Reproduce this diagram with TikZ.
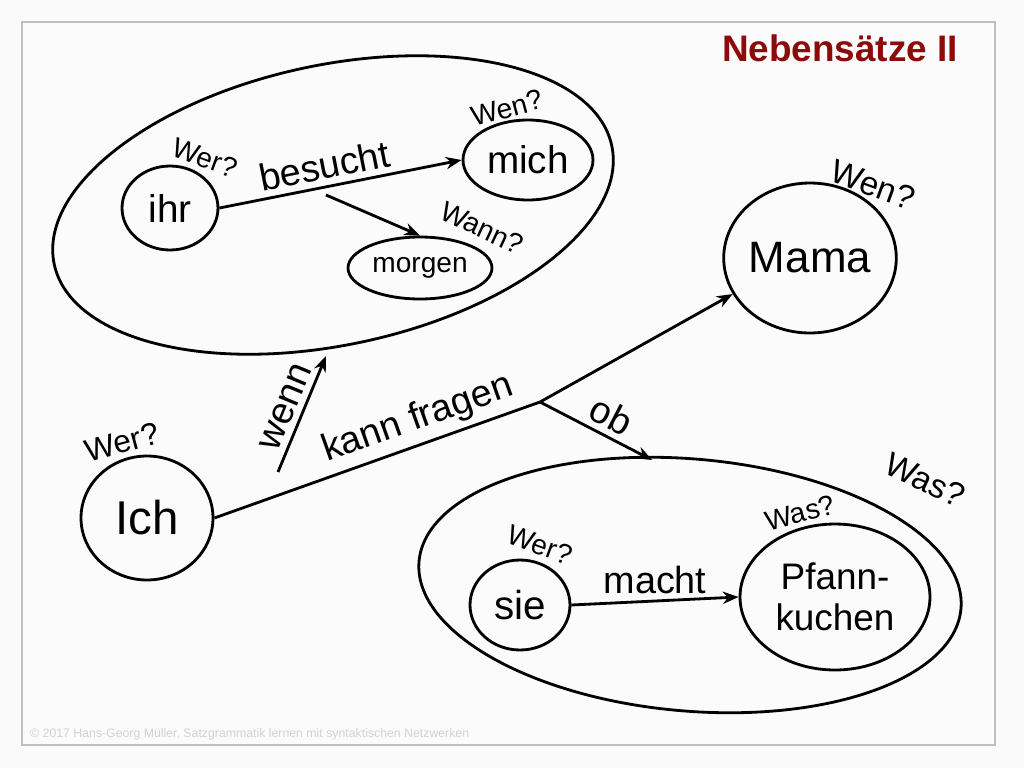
\documentclass[tikz,border=0pt]{standalone}
\usepackage{fontspec}
\setmainfont{Liberation Sans}
\usetikzlibrary{shapes.geometric,arrows.meta}
\definecolor{titlered}{RGB}{140,10,10}
\begin{document}
\begin{tikzpicture}[x=0.02cm,y=-0.02cm,
  ring/.style={draw,line width=1.6pt,ellipse,inner sep=0pt},
  link/.style={line width=1.6pt,-{Stealth[length=9pt,width=7pt]}},
  ask/.style={font=\fontsize{16}{16}\selectfont},
  verb/.style={font=\fontsize{21.5}{21.5}\selectfont}]
\useasboundingbox (0,0) rectangle (1024,768);
\fill[gray!4] (0,0) rectangle (1024,768);
\draw[gray!50,line width=1pt,fill=white!97!gray] (22,22) rectangle (995,745);
\node[font=\fontsize{21}{21}\selectfont\bfseries,text=titlered] (title) at (840,48) {Nebensätze II};
%top clause
\draw[line width=1.6pt] (333,205) ellipse [x radius=285,y radius=140,rotate=12];
\node[ring,minimum width=1.92cm,minimum height=1.68cm,font=\fontsize{22}{22}\selectfont] (ihr) at (170,208) {ihr};
\node[ring,minimum width=2.6cm,minimum height=1.6cm,font=\fontsize{22}{22}\selectfont] (mich) at (528,160) {mich};
\node[ring,minimum width=2.88cm,minimum height=1.24cm,font=\fontsize{16}{16}\selectfont] (morgen) at (420,268) {morgen};
\draw[link] (ihr.east) -- node[pos=0.45,above,sloped,verb] (besucht) {besucht} (mich.west);
\coordinate (mid) at (326,195);
\draw[link] (mid) -- (morgen.north);
\node[ask,rotate=-20] (werihr) at (205,158) {Wer?};
\node[ask,rotate=15] (wenmich) at (507,108) {Wen?};
\node[ask,rotate=-25] (wann) at (482,228) {Wann?};
%main clause
\node[ring,minimum width=3.4cm,minimum height=3cm,font=\fontsize{25}{25}\selectfont] (mama) at (810,258) {Mama};
\node[ask,font=\fontsize{19}{19}\selectfont,rotate=-20] (wenmama) at (873,185) {Wen?};
\node[ring,minimum width=2.64cm,minimum height=2.48cm,font=\fontsize{27}{27}\selectfont] (ich) at (147,518) {Ich};
\node[ask,font=\fontsize{18}{18}\selectfont,rotate=15] (werich) at (122,442) {Wer?};
\coordinate (fork) at (540,402);
\draw[line width=1.6pt] (ich.east) -- node[pos=0.65,above,sloped,verb] (kann) {kann fragen} (fork);
\draw[link] (fork) -- (mama.205);
\draw[link] (fork) -- node[pos=0.55,above,sloped,verb] (ob) {ob} (652,460);
\draw[link] (278,472) -- node[pos=0.5,above,sloped,verb] (wenn) {wenn} (326,356);
%lower clause
\draw[line width=1.6pt] (690,585) ellipse [x radius=272,y radius=126,rotate=-5];
\node[ring,minimum width=2cm,minimum height=1.8cm,font=\fontsize{23}{23}\selectfont] (sie) at (520,605) {sie};
\node[ring,minimum width=3.8cm,minimum height=2.92cm,align=center,font=\fontsize{21}{23}\selectfont] (kuchen) at (835,597) {Pfann-\\kuchen};
\draw[link] (sie.east) -- node[above,verb] (macht) {macht} (kuchen.west);
\node[ask,rotate=-20] (wersie) at (540,545) {Wer?};
\node[ask,rotate=15] (waskuchen) at (800,513) {Was?};
\node[ask,font=\fontsize{19}{19}\selectfont,rotate=-25] (was) at (925,480) {Was?};
\node[anchor=south west,text=gray!35,font=\fontsize{7}{7}\selectfont] (foot) at (24,746) {© 2017 Hans-Georg Müller, Satzgrammatik lernen mit syntaktischen Netzwerken};
\end{tikzpicture}
\end{document}
